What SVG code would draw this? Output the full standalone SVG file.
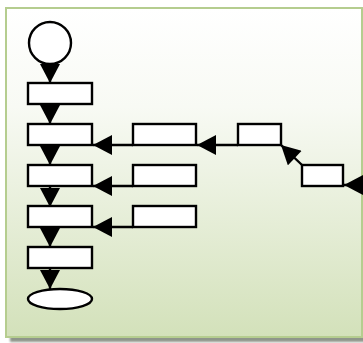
<svg xmlns="http://www.w3.org/2000/svg" width="363" height="343" viewBox="0 0 363 343">
<style>
.n{fill:#ffffff;stroke:#000000;stroke-width:2.4}
.c{fill:none;stroke:#000000;stroke-width:2.4}
</style>
<defs>
<linearGradient id="bg" x1="0" y1="0" x2="0" y2="1">
<stop offset="0" stop-color="#ffffff"/>
<stop offset="0.3" stop-color="#f8faf4"/>
<stop offset="1" stop-color="#d3e1ba"/>
</linearGradient>
<filter id="sh" x="-5%" y="-5%" width="110%" height="110%">
<feGaussianBlur stdDeviation="1.2"/>
</filter>
<marker id="ah" markerUnits="userSpaceOnUse" markerWidth="20" markerHeight="20" viewBox="0 0 19 20" refX="19" refY="10" orient="auto">
<path d="M0,0 L19,10 L0,20 z" fill="#000000"/>
</marker>
</defs>
<g id="panel">
<rect x="10" y="13" width="360" height="329" fill="#8f968a" filter="url(#sh)"/>
<rect x="6" y="8" width="356" height="329" fill="url(#bg)" stroke="#b5cd8f" stroke-width="2"/>
</g>
<g id="connectors">
<line class="c" x1="50" y1="64" x2="50" y2="83" marker-end="url(#ah)"/>
<line class="c" x1="50" y1="104" x2="50" y2="124" marker-end="url(#ah)"/>
<line class="c" x1="50" y1="145" x2="50" y2="165" marker-end="url(#ah)"/>
<line class="c" x1="50" y1="186" x2="50" y2="207" marker-end="url(#ah)"/>
<line class="c" x1="50" y1="228" x2="50" y2="247" marker-end="url(#ah)"/>
<line class="c" x1="50" y1="268" x2="50" y2="289" marker-end="url(#ah)"/>
<line class="c" x1="133" y1="145" x2="93" y2="145" marker-end="url(#ah)"/>
<line class="c" x1="238" y1="145" x2="197" y2="145" marker-end="url(#ah)"/>
<line class="c" x1="302" y1="165" x2="281" y2="145" marker-end="url(#ah)"/>
<line class="c" x1="390" y1="185" x2="344" y2="185" marker-end="url(#ah)"/>
<line class="c" x1="133" y1="186" x2="93" y2="186" marker-end="url(#ah)"/>
<line class="c" x1="133" y1="227" x2="93" y2="227" marker-end="url(#ah)"/>
</g>
<g id="start"><circle class="n" cx="50" cy="43" r="21"/></g>
<g id="step1"><rect class="n" x="28" y="83" width="64" height="21"/></g>
<g id="step2"><rect class="n" x="28" y="124" width="64" height="21"/></g>
<g id="step3"><rect class="n" x="28" y="165" width="64" height="21"/></g>
<g id="step4"><rect class="n" x="28" y="206" width="64" height="21"/></g>
<g id="step5"><rect class="n" x="28" y="247" width="64" height="21"/></g>
<g id="end"><ellipse class="n" cx="60" cy="299" rx="32" ry="10"/></g>
<g id="b1"><rect class="n" x="133" y="124" width="63" height="21"/></g>
<g id="b2"><rect class="n" x="238" y="124" width="43" height="21"/></g>
<g id="c1"><rect class="n" x="302" y="165" width="41" height="21"/></g>
<g id="b3"><rect class="n" x="133" y="165" width="63" height="21"/></g>
<g id="b4"><rect class="n" x="133" y="206" width="63" height="21"/></g>
</svg>
